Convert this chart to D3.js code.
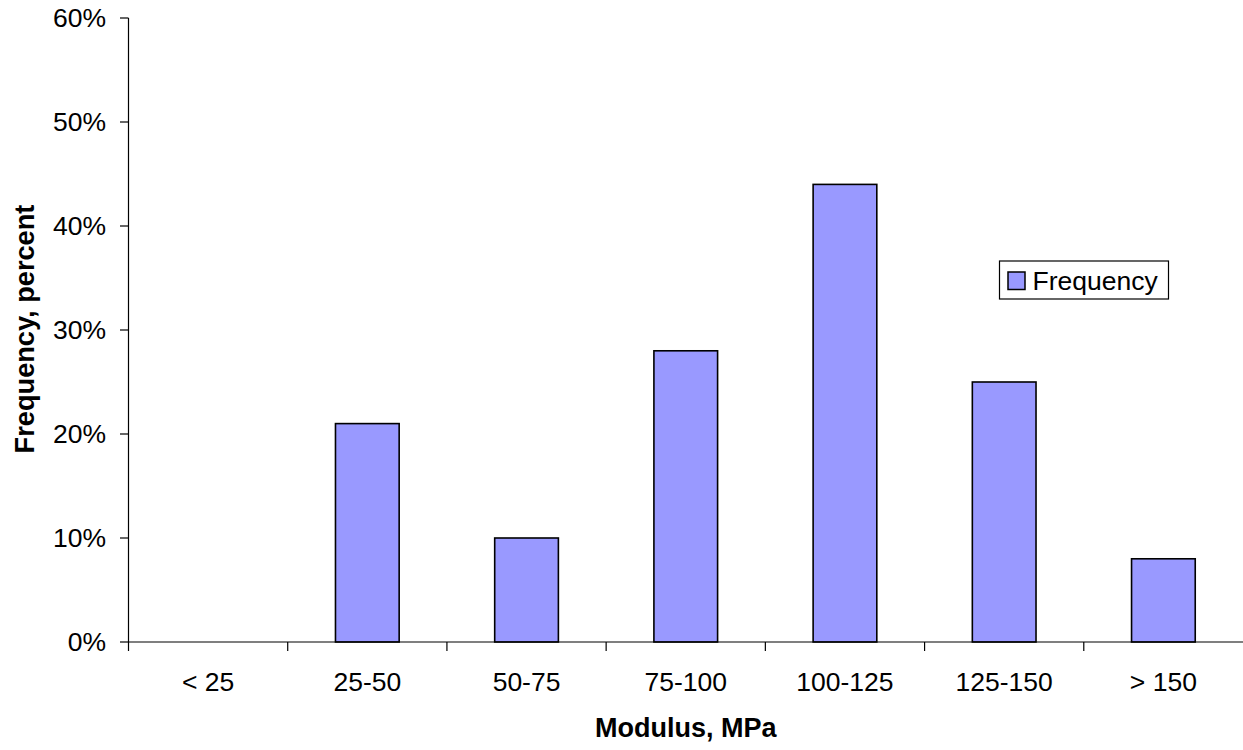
<!DOCTYPE html>
<html>
<head>
<meta charset="utf-8">
<script src="https://cdn.jsdelivr.net/npm/d3@7"></script>
<style>
  html, body { margin: 0; padding: 0; background: #fff; }
  svg { display: block; }
  text { font-family: "Liberation Sans", Arial, sans-serif; fill: #000; }
</style>
</head>
<body>
<svg id="chart" width="1243" height="750"></svg>
<script>
const categories = ["< 25", "25-50", "50-75", "75-100", "100-125", "125-150", "> 150"];
const frequency = [0, 21, 10, 28, 44, 25, 8];
const yTicks = [0, 10, 20, 30, 40, 50, 60];
const seriesName = "Frequency";
const xTitle = "Modulus, MPa";
const yTitle = "Frequency, percent";

const svg = d3.select("#chart");
const m = { left: 128.5, top: 18, right: 1243, bottom: 642 };

const x = d3.scaleBand().domain(categories).range([m.left, m.right]).padding(0);
const y = d3.scaleLinear().domain([0, 60]).range([m.bottom, m.top]);

// bars
const barW = x.bandwidth() * 0.4;
svg.append("g").selectAll("rect").data(frequency.map((v, i) => ({ c: categories[i], v })))
  .join("rect")
  .filter(d => d.v > 0)
  .attr("x", d => x(d.c) + (x.bandwidth() - barW) / 2)
  .attr("y", d => y(d.v))
  .attr("width", barW)
  .attr("height", d => y(0) - y(d.v))
  .attr("fill", "#9999FF")
  .attr("stroke", "#000")
  .attr("stroke-width", 1.6);

// y axis
const yAxis = svg.append("g");
yAxis.append("line").attr("x1", m.left).attr("x2", m.left).attr("y1", y(60)).attr("y2", y(0))
  .attr("stroke", "#000").attr("stroke-width", 1.2);
yAxis.selectAll("line.t").data(yTicks).join("line").attr("class", "t")
  .attr("x1", m.left - 8.5).attr("x2", m.left).attr("y1", d => y(d)).attr("y2", d => y(d))
  .attr("stroke", "#000").attr("stroke-width", 1.2);
yAxis.selectAll("text").data(yTicks).join("text")
  .attr("x", 106).attr("y", d => y(d)).attr("dy", "0.35em")
  .attr("text-anchor", "end").attr("font-size", "26.5px")
  .text(d => d + "%");

// x axis
const xAxis = svg.append("g");
xAxis.append("line").attr("x1", m.left).attr("x2", m.right).attr("y1", y(0)).attr("y2", y(0))
  .attr("stroke", "#000").attr("stroke-width", 1.2);
const bounds = categories.map(c => x(c));
xAxis.selectAll("line.t").data(bounds).join("line").attr("class", "t")
  .attr("x1", d => d).attr("x2", d => d).attr("y1", y(0)).attr("y2", y(0) + 9)
  .attr("stroke", "#000").attr("stroke-width", 1.2);
xAxis.selectAll("text").data(categories).join("text")
  .attr("x", d => x(d) + x.bandwidth() / 2).attr("y", 691)
  .attr("text-anchor", "middle").attr("font-size", "26.5px")
  .text(d => d);

// titles
svg.append("text").attr("x", (m.left + m.right) / 2).attr("y", 737)
  .attr("text-anchor", "middle").attr("font-size", "27px").attr("font-weight", "bold")
  .text(xTitle);
svg.append("text").attr("transform", `translate(34.3,329) rotate(-90)`)
  .attr("text-anchor", "middle").attr("font-size", "27.2px").attr("font-weight", "bold")
  .text(yTitle);

// legend
const lg = svg.append("g");
lg.append("rect").attr("x", 999.5).attr("y", 261).attr("width", 169).attr("height", 38)
  .attr("fill", "#fff").attr("stroke", "#000").attr("stroke-width", 1.2);
lg.append("rect").attr("x", 1008).attr("y", 272).attr("width", 17).attr("height", 17.5)
  .attr("fill", "#9999FF").attr("stroke", "#000").attr("stroke-width", 1.5);
lg.append("text").attr("x", 1032.5).attr("y", 290).attr("font-size", "26.5px").text(seriesName);
</script>
</body>
</html>
